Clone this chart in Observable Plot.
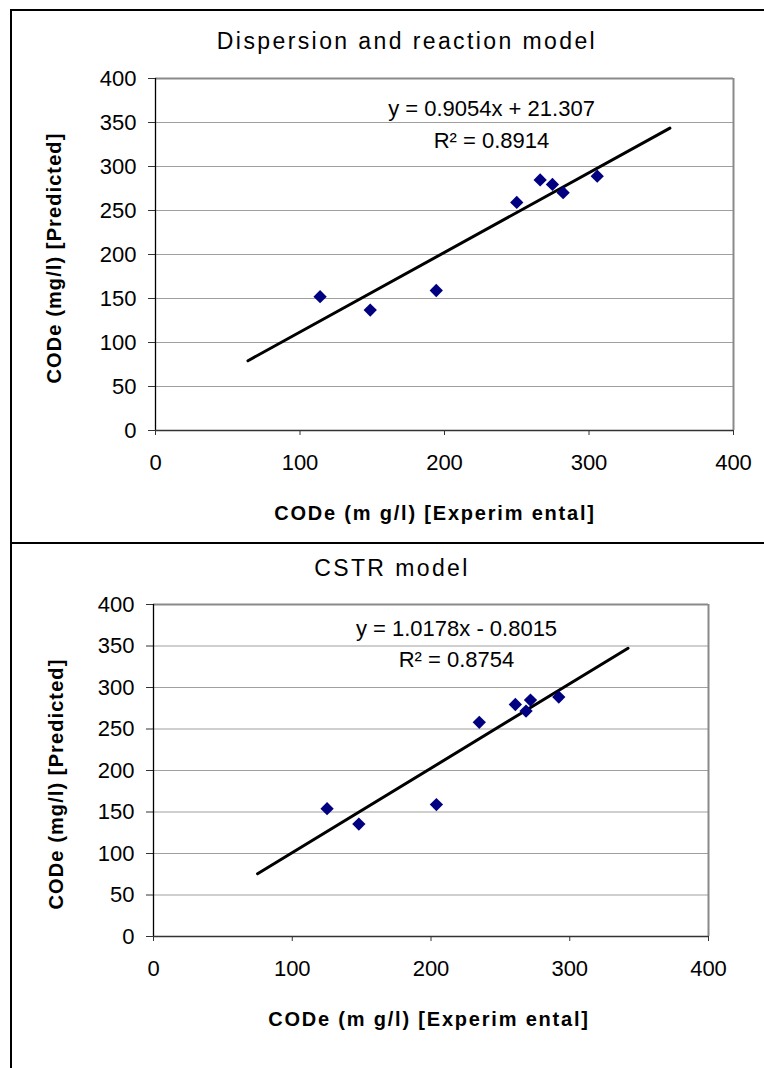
<!DOCTYPE html>
<html>
<head>
<meta charset="utf-8">
<script src="https://cdn.jsdelivr.net/npm/d3@7"></script>
<script src="https://cdn.jsdelivr.net/npm/@observablehq/plot@0.6"></script>
<style>
  html, body { margin: 0; padding: 0; background: #fff; }
  #page { position: relative; width: 764px; height: 1068px; overflow: hidden; font-family: "Liberation Sans", Arial, sans-serif; color: #000; }
  .panel { position: absolute; left: 0; }
  .lbl { position: absolute; white-space: nowrap; line-height: 1; transform: translate(-50%, -50%); }
  .title { font-size: 23px; letter-spacing: 2.4px; }
  .axl { font-size: 20px; font-weight: bold; }
  .ylab { transform: translate(-50%, -50%) rotate(-90deg); }
  .bline { position: absolute; background: #000; }
</style>
</head>
<body>
<div id="page"></div>
<script>
// ---- data ----
const xTicks = [0, 100, 200, 300, 400];
const yTicks = [0, 50, 100, 150, 200, 250, 300, 350, 400];

const dispExp  = [113.9, 148.6, 194.3, 250.0, 266.2, 274.7, 282.1, 305.7];
const dispPred = [152.1, 136.9, 159.1, 259.2, 284.7, 279.6, 270.2, 289.0];
const dispFitX = [64, 356];
const dispFitY = [79.3, 343.6];
const dispEq = ["y = 0.9054x + 21.307", "R² = 0.8914"];
const dispTitle = "Dispersion and reaction model";

const cstrExp  = [125.1, 148.0, 203.9, 234.8, 260.8, 268.5, 271.7, 292.1];
const cstrPred = [154.0, 135.4, 158.9, 258.0, 279.5, 271.6, 284.8, 288.5];
const cstrFitX = [75, 342];
const cstrFitY = [75.5, 347.3];
const cstrEq = ["y = 1.0178x - 0.8015", "R² = 0.8754"];
const cstrTitle = "CSTR model";

const xLabel = "CODe (m g/l) [Experim ental]";
const yLabel = "CODe (mg/l) [Predicted]";

// ---- drawing ----
const page = document.getElementById("page");
const FONT = '"Liberation Sans", Arial, sans-serif';

function panel(cfg) {
  const pts = cfg.xs.map((x, i) => ({x, y: cfg.ys[i]}));
  const fit = cfg.fx.map((x, i) => ({x, y: cfg.fy[i]}));
  const svg = Plot.plot({
    width: 764,
    height: cfg.height,
    marginLeft: cfg.ml, marginRight: cfg.mr, marginTop: cfg.mt, marginBottom: cfg.mb,
    style: {fontFamily: FONT, fontSize: "22px", color: "#000", background: "transparent", overflow: "visible"},
    x: {domain: [0, 400]},
    y: {domain: [0, 400]},
    marks: [
      Plot.gridY(yTicks.filter(d => d > 0 && d < 400), {stroke: "#a0a0a0", strokeOpacity: 1, strokeWidth: 1.2}),
      Plot.ruleY([400], {stroke: "#8a8a8a", strokeWidth: 2}),
      Plot.ruleX([400], {stroke: "#8a8a8a", strokeWidth: 2}),
      Plot.axisY(yTicks, {tickSize: 7, tickFormat: () => "", label: null, stroke: "#333"}),
      Plot.axisX(xTicks, {tickSize: 5, tickFormat: () => "", label: null, stroke: "#333"}),
      Plot.text(yTicks, {y: d => d, text: d => String(d), frameAnchor: "left", dx: -19, textAnchor: "end", lineAnchor: "middle", fontSize: 22, letterSpacing: 0.3, fill: "#000"}),
      Plot.text(xTicks, {x: d => d, text: d => String(d), frameAnchor: "bottom", dy: 32, textAnchor: "middle", lineAnchor: "middle", fontSize: 22, letterSpacing: 0.3, fill: "#000"}),
      Plot.ruleX([0], {stroke: "#000", strokeWidth: 1.3}),
      Plot.ruleY([0], {stroke: "#333", strokeWidth: 1.6}),
      Plot.line(fit, {x: "x", y: "y", stroke: "#000", strokeWidth: 3}),
      Plot.dot(pts, {x: "x", y: "y", symbol: "square", r: 5.3, rotate: 45, fill: "#000080", stroke: "none"}),
      Plot.text([cfg.eq[0]], {frameAnchor: "top-left", dx: cfg.eqx, dy: cfg.eqy1, textAnchor: "middle", lineAnchor: "middle", fontSize: 22, letterSpacing: 0.7, fill: "#000"}),
      Plot.text([cfg.eq[1]], {frameAnchor: "top-left", dx: cfg.eqx, dy: cfg.eqy2, textAnchor: "middle", lineAnchor: "middle", fontSize: 22, letterSpacing: 0.7, fill: "#000"})
    ]
  });
  const wrap = document.createElement("div");
  wrap.className = "panel";
  wrap.style.top = cfg.top + "px";
  wrap.appendChild(svg);
  page.appendChild(wrap);

  const add = (cls, text, x, y, extra) => {
    const d = document.createElement("div");
    d.className = "lbl " + cls;
    d.textContent = text;
    d.style.left = x + "px";
    d.style.top = y + "px";
    if (extra) Object.assign(d.style, extra);
    page.appendChild(d);
  };
  add("title", cfg.title, cfg.tx, cfg.ty);
  add("axl", xLabel, cfg.xlx, cfg.xly, {letterSpacing: "1.8px"});
  add("axl ylab", yLabel, cfg.ylx, cfg.yly, {letterSpacing: "1.1px"});
}

panel({
  top: 0, height: 543, ml: 155, mr: 31, mt: 78, mb: 113,
  xs: dispExp, ys: dispPred, fx: dispFitX, fy: dispFitY, eq: dispEq,
  eqx: 336, eqy1: 30.6, eqy2: 62.7,
  title: dispTitle, tx: 407, ty: 41,
  xlx: 435, xly: 513, ylx: 54, yly: 258
});

panel({
  top: 543, height: 525, ml: 153, mr: 56, mt: 61, mb: 132,
  xs: cstrExp, ys: cstrPred, fx: cstrFitX, fy: cstrFitY, eq: cstrEq,
  eqx: 303, eqy1: 24, eqy2: 55,
  title: cstrTitle, tx: 392, ty: 568,
  xlx: 429, xly: 1019, ylx: 56, yly: 784
});

// outer frame lines
const line = (l, t, w, h) => {
  const d = document.createElement("div");
  d.className = "bline";
  Object.assign(d.style, {left: l + "px", top: t + "px", width: w + "px", height: h + "px"});
  page.appendChild(d);
};
line(10, 9, 754, 2);
line(10, 9, 2, 1059);
line(10, 542, 754, 2);
</script>
</body>
</html>
